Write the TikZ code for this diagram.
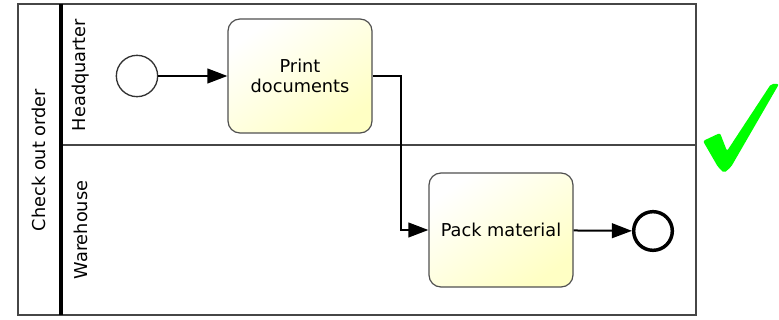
\documentclass[tikz,border=0pt]{standalone}
\usepackage{fontspec}
\setmainfont{DejaVu Sans}
\usepackage{tikz}
\usetikzlibrary{arrows.meta}
\definecolor{taskfill}{RGB}{255,255,196}
\definecolor{taskline}{RGB}{80,80,80}
\definecolor{poolline}{RGB}{70,70,70}
\definecolor{checkgreen}{RGB}{0,255,0}
\tikzset{
  pool/.style={draw=poolline, line width=1.6pt},
  header/.style={draw=black, line width=2.4pt},
  task/.style={draw=taskline, line width=0.9pt, rounded corners=9pt, minimum width=108pt, minimum height=85.5pt,
    align=center, top color=white, bottom color=taskfill, shading angle=35, font=\fontsize{13.3}{15.5}\selectfont},
  startev/.style={circle, draw=black!80, line width=1pt, fill=white, minimum size=31pt, inner sep=0pt},
  endev/.style={circle, draw=black, line width=2.6pt, fill=white, minimum size=29pt, inner sep=0pt},
  flow/.style={draw=black, line width=1.5pt, -{Triangle[length=15pt, width=11pt]}},
  lanelabel/.style={rotate=90, font=\fontsize{13.3}{15.5}\selectfont},
  check/.style={fill=checkgreen, draw=none}
}

\begin{document}
\begin{tikzpicture}[x=0.75pt, y=-0.75pt]
  \useasboundingbox (0,0) rectangle (779,320);
  % pool and lanes
  \draw[pool] (18,4) rectangle (696,315);
  \draw[pool] (61,145) -- (696,145);
  \draw[header] (61,4) -- (61,315);
  \node[lanelabel] (poolname) at (39,160) {Check out order};
  \node[lanelabel] (hq) at (81,75) {Headquarter};
  \node[lanelabel] (wh) at (81,230) {Warehouse};
  % events and tasks
  \node[startev] (start) at (137,76) {};
  \node[task] (print) at (300,76) {Print\\documents};
  \node[task] (pack) at (501,230) {Pack material};
  \node[endev] (end) at (653,231) {};
  % flows
  \draw[flow] (start) -- (print);
  \draw[flow] (print.east) -- ++(28,0) |- (pack.west);
  \draw[flow] (pack) -- (end);
  % check mark
  \fill[check, rounded corners=1.5pt] (703,141) -- (720,133) -- (727,151) -- (771,84) -- (779,84)
    -- (731,167) -- (724,173) -- (718,167) -- cycle;
\end{tikzpicture}
\end{document}
